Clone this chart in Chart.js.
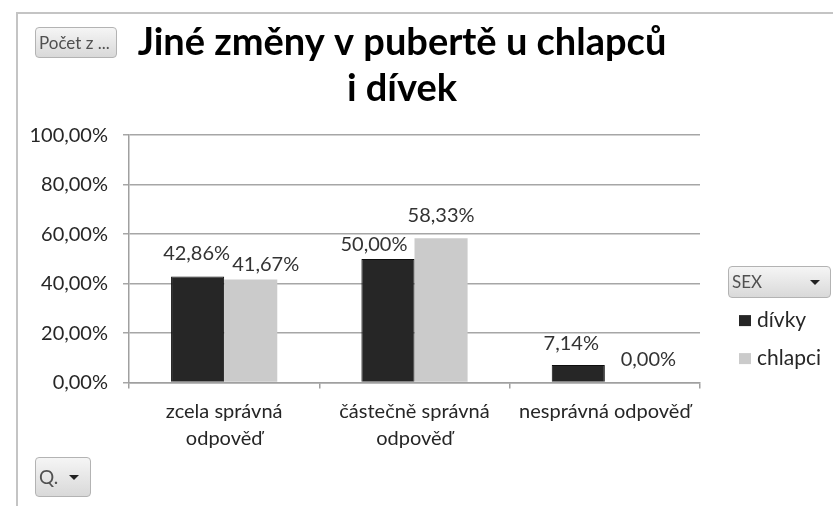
<!DOCTYPE html>
<html>
<head>
<meta charset="utf-8">
<script src="https://cdn.jsdelivr.net/npm/chart.js@4/dist/chart.umd.min.js"></script>
<style>
  body { margin: 0; background: #fff; }
  #wrap { position: relative; width: 833px; height: 506px; overflow: hidden; }
  #frame { position: absolute; left: 16px; top: 12px; width: 900px; height: 600px;
           border-top: 2px solid #c4c4c4; border-left: 2px solid #c4c4c4; }
  #chartBox { position: absolute; left: 0; top: 0; width: 833px; height: 506px; }
  .btn { position: absolute; box-sizing: border-box; border: 1px solid #b3b3b3; border-radius: 4px;
         background: linear-gradient(#f5f5f5, #d9d9d9); font-family: Lato, sans-serif;
         color: #505050; padding-left: 3px; z-index: 2; }
  .btn .arr { position: absolute; width: 0; height: 0; border-left: 5px solid transparent;
              border-right: 5px solid transparent; border-top: 5px solid #222; }
</style>
</head>
<body>
<div id="wrap">
  <div id="frame"></div>
  <div id="chartBox"><canvas id="chart"></canvas></div>
  <div class="btn" style="left:35px;top:27px;width:82px;height:31px;line-height:29px;font-size:17px;">Počet z ...</div>
  <div class="btn" style="left:728px;top:266px;width:103px;height:32px;line-height:30px;font-size:17px;">SEX<span class="arr" style="left:81px;top:13px;"></span></div>
  <div class="btn" style="left:35px;top:457px;width:56px;height:40px;line-height:38px;font-size:19px;">Q.<span class="arr" style="left:33px;top:17px;"></span></div>
</div>
<script>
// Chart data
const titleLines = ['Jiné změny v pubertě u chlapců', 'i dívek'];
const categories = [['zcela správná', 'odpověď'], ['částečně správná', 'odpověď'], ['nesprávná odpověď']];
const seriesNames = ['dívky', 'chlapci'];
const divky = [42.86, 50.00, 7.14];
const chlapci = [41.67, 58.33, 0.00];
const yTicks = [0, 20, 40, 60, 80, 100];

const FONT = 'Lato';
const pct = v => v.toFixed(2).replace('.', ',') + '%';

// label nudges (dx, dy from bar top) to mimic the original placement
const labelNudge = [
    [[-1, -23], [-14, -14], [-7, -21]],
    [[15, -15], [0, -23], [17, -23]]
];

const valueLabels = {
    id: 'valueLabels',
    afterDatasetsDraw(chart) {
        const ctx = chart.ctx;
        ctx.save();
        ctx.font = '20px ' + FONT;
        ctx.fillStyle = '#333333';
        ctx.textAlign = 'center';
        ctx.textBaseline = 'middle';
        chart.data.datasets.forEach((ds, i) => {
            chart.getDatasetMeta(i).data.forEach((bar, j) => {
                const n = labelNudge[i][j];
                ctx.fillText(pct(ds.data[j]), bar.x + n[0], bar.y + n[1]);
            });
        });
        ctx.restore();
    }
};

// legend drawn beside the plot, under the SEX button
const sideLegend = {
    id: 'sideLegend',
    afterDraw(chart) {
        const ctx = chart.ctx;
        const area = chart.chartArea;
        ctx.save();
        ctx.font = '21px ' + FONT;
        ctx.textBaseline = 'middle';
        chart.data.datasets.forEach((ds, i) => {
            const x = area.right + 39;
            const y = area.bottom - 62 + i * 38;
            ctx.fillStyle = ds.backgroundColor;
            ctx.fillRect(x, y - 5.5, 12, 11);
            ctx.fillStyle = '#262626';
            ctx.fillText(ds.label, x + 18, y);
        });
        ctx.restore();
    }
};

const ctx = document.getElementById('chart').getContext('2d');
new Chart(ctx, {
    type: 'bar',
    data: {
        labels: categories,
        datasets: [
            { label: seriesNames[0], data: divky, backgroundColor: '#262626', borderColor: '#0d0d0d', borderWidth: 1 },
            { label: seriesNames[1], data: chlapci, backgroundColor: '#cbcbcb', borderWidth: 0 }
        ]
    },
    options: {
        responsive: true,
        maintainAspectRatio: false,
        animation: false,
        categoryPercentage: 0.558,
        barPercentage: 1,
        layout: { padding: { left: 0, right: 29, top: 15, bottom: 44 } },
        plugins: {
            title: {
                display: true,
                text: titleLines,
                color: '#000',
                font: { family: FONT, size: 38, weight: 'bold', lineHeight: 1.226 },
                padding: { top: 4, bottom: 23 }
            },
            legend: { display: false },
            tooltip: { enabled: false }
        },
        scales: {
            x: {
                grid: { display: true, drawOnChartArea: false, offset: true, tickLength: 6, color: '#a0a0a0', lineWidth: 1.5 },
                border: { color: '#a0a0a0', width: 1.5 },
                ticks: { color: '#262626', padding: 10, maxRotation: 0, autoSkip: false,
                         font: { family: FONT, size: 20, lineHeight: 1.335 } }
            },
            y: {
                min: 0,
                max: 100,
                afterBuildTicks: s => { s.ticks = yTicks.map(v => ({ value: v })); },
                afterFit: s => { s.width = 129; },
                grid: { color: '#a6a6a6', lineWidth: 1.5, tickLength: 6 },
                border: { color: '#a0a0a0', width: 1.5 },
                ticks: { color: '#262626', padding: 15, callback: v => pct(v),
                         font: { family: FONT, size: 20 } }
            },
            // empty axis that only reserves the legend column on the right
            gap: {
                type: 'linear',
                position: 'right',
                display: true,
                grid: { display: false },
                border: { display: false },
                ticks: { display: false },
                afterFit: s => { s.width = 104; }
            }
        }
    },
    plugins: [valueLabels, sideLegend]
});
</script>
</body>
</html>
